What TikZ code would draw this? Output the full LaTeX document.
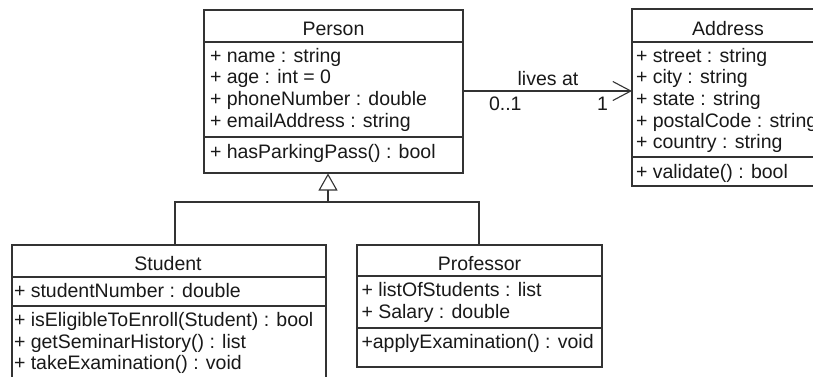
\documentclass[tikz,border=0pt]{standalone}
\usepackage{fontspec}
\setmainfont{Liberation Sans}
\usetikzlibrary{arrows.meta}
\begin{document}
\begin{tikzpicture}[x=1pt,y=-1pt,
  line width=1.1pt,
  color=black!80,
  classbox/.style={draw=black!80, line width=1.1pt, rectangle, inner sep=0pt, outer sep=0pt, anchor=north west},
  txt/.style={anchor=base west, inner sep=0pt, outer sep=0pt, text=black!90, font=\fontsize{19.5}{22}\selectfont},
  ttl/.style={anchor=base, inner sep=0pt, outer sep=0pt, text=black!90, font=\fontsize{19.5}{22}\selectfont},
  lbl/.style={inner sep=0pt, outer sep=0pt, text=black!90, font=\fontsize{19.5}{22}\selectfont}
]
\fill[white] (0,0) rectangle (813,376);
\path[use as bounding box] (0,0) rectangle (813,376);
\clip (0,0) rectangle (813,376);

% ---------- Person ----------
\node[classbox, minimum width=259pt, minimum height=163pt] (person) at (204,10) {};
\draw (person.west |- 0,42) -- (person.east |- 0,42);
\draw (person.west |- 0,137) -- (person.east |- 0,137);
\node[ttl] (persont) at (333.5,35) {Person};
\node[txt] (p1) at (210,62) {+ name : string};
\node[txt] (p2) at (210,83.7) {+ age : int = 0};
\node[txt] (p3) at (210,105.4) {+ phoneNumber : double};
\node[txt] (p4) at (210,127) {+ emailAddress : string};
\node[txt] (p5) at (210,158) {+ hasParkingPass() : bool};

% ---------- Address ----------
\node[classbox, minimum width=192pt, minimum height=177pt] (address) at (632,9) {};
\draw (address.west |- 0,42) -- (address.east |- 0,42);
\draw (address.west |- 0,157) -- (address.east |- 0,157);
\node[ttl] (addresst) at (728,35) {Address};
\node[txt] (a1) at (636,62) {+ street : string};
\node[txt] (a2) at (636,83.7) {+ city : string};
\node[txt] (a3) at (636,105.4) {+ state : string};
\node[txt] (a4) at (636,127) {+ postalCode : string};
\node[txt] (a5) at (636,148.8) {+ country : string};
\node[txt] (a6) at (636,178) {+ validate() : bool};

% ---------- Student ----------
\node[classbox, minimum width=314pt, minimum height=160pt] (student) at (12,245) {};
\draw (student.west |- 0,277) -- (student.east |- 0,277);
\draw (student.west |- 0,306) -- (student.east |- 0,306);
\node[ttl] (studentt) at (168,270) {Student};
\node[txt] (s1) at (14,297.5) {+ studentNumber : double};
\node[txt] (s2) at (14,326.5) {+ isEligibleToEnroll(Student) : bool};
\node[txt] (s3) at (14,348) {+ getSeminarHistory() : list};
\node[txt] (s4) at (14,369.5) {+ takeExamination() : void};

% ---------- Professor ----------
\node[classbox, minimum width=245pt, minimum height=122pt] (professor) at (357,245) {};
\draw (professor.west |- 0,276) -- (professor.east |- 0,276);
\draw (professor.west |- 0,328) -- (professor.east |- 0,328);
\node[ttl] (professort) at (479.5,270) {Professor};
\node[txt] (r1) at (361.5,296.5) {+ listOfStudents : list};
\node[txt] (r2) at (361.5,318) {+ Salary : double};
\node[txt] (r3) at (361.5,348.5) {+applyExamination() : void};

% ---------- Association ----------
\coordinate (assocA) at (person.east |- 0,91);
\coordinate (assocB) at (address.west |- 0,91);
\draw[-{Straight Barb[length=18pt,width=19pt,line width=1.1pt]}] (assocA) -- (assocB);
\node[lbl, anchor=base] (livesat) at (548,85) {lives at};
\node[lbl, anchor=base west] (m01) at (489,110) {0..1};
\node[lbl, anchor=base west] (m1) at (597,110) {1};

% ---------- Generalization ----------
\coordinate (gen) at (328,202);
\coordinate (sj) at (175,245);
\coordinate (pj) at (479,245);
\coordinate (tip) at (328,173.5);
\draw[-{Triangle[open,length=17pt,width=19pt,line width=1.1pt,fill=white]}] (gen) -- (tip);
\draw (sj) |- (gen) -| (pj);
\end{tikzpicture}
\end{document}
